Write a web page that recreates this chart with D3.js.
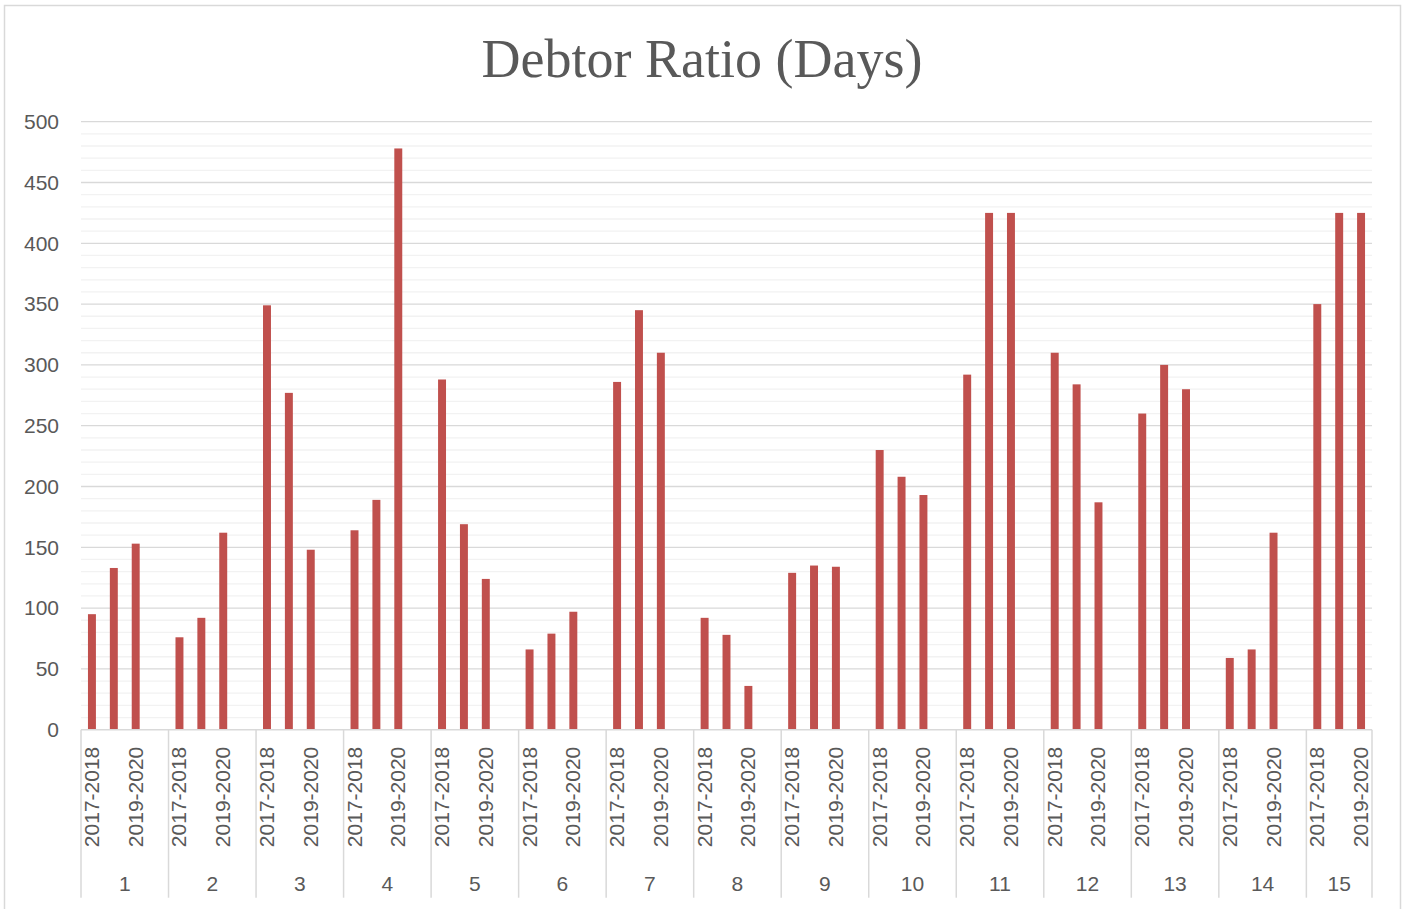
<!DOCTYPE html>
<html>
<head>
<meta charset="utf-8">
<script src="https://cdn.jsdelivr.net/npm/d3@7"></script>
<style>
  body { margin: 0; background: #fff; }
  text { font-family: "Liberation Sans", Arial, sans-serif; fill: #595959; }
</style>
</head>
<body>
<svg width="1405" height="909"></svg>
<script>
const groups = [1, 2, 3, 4, 5, 6, 7, 8, 9, 10, 11, 12, 13, 14, 15];
const periods = ["2017-2018", "2018-2019", "2019-2020"];
const ratio1718 = [95, 76, 349, 164, 288, 66, 286, 92, 129, 230, 292, 310, 260, 59, 350];
const ratio1819 = [133, 92, 277, 189, 169, 79, 345, 78, 135, 208, 425, 284, 300, 66, 425];
const ratio1920 = [153, 162, 148, 478, 124, 97, 310, 36, 134, 193, 425, 187, 280, 162, 425];
const yTicks = [0, 50, 100, 150, 200, 250, 300, 350, 400, 450, 500];

const svg = d3.select("svg");
const width = +svg.attr("width");
const height = +svg.attr("height");
const margin = {top: 121.7, right: 33, bottom: 179.3, left: 81};
const innerWidth = width - margin.left - margin.right;
const innerHeight = height - margin.top - margin.bottom;

// chart border
svg.append("rect")
  .attr("x", 4.5).attr("y", 5.5)
  .attr("width", 1396).attr("height", 910)
  .attr("fill", "none")
  .attr("stroke", "#d9d9d9")
  .attr("stroke-width", 1.5);

// title
svg.append("text")
  .attr("x", 702).attr("y", 77)
  .attr("text-anchor", "middle")
  .style("font-family", "'Liberation Serif', 'DejaVu Serif', serif")
  .style("font-size", "54px")
  .text("Debtor Ratio (Days)");

// build slots: 3 periods per group plus a blank spacer between groups
const series = [ratio1718, ratio1819, ratio1920];
const slots = [];
groups.forEach((grp, gi) => {
  periods.forEach((p, pi) => {
    slots.push({key: grp + "|" + p, group: grp, period: p, pi: pi, value: series[pi][gi]});
  });
  if (gi < groups.length - 1) slots.push({key: grp + "|blank", group: grp, period: "", pi: -1, value: null});
});

const g = svg.append("g").attr("transform", `translate(${margin.left},${margin.top})`);

const x = d3.scaleBand().domain(slots.map(d => d.key)).range([0, innerWidth]).paddingInner(0).paddingOuter(0);
const y = d3.scaleLinear().domain([0, 500]).range([innerHeight, 0]);

// minor gridlines
g.append("g")
  .selectAll("line")
  .data(d3.range(10, 500, 10).filter(v => v % 50 !== 0))
  .join("line")
  .attr("x1", 0).attr("x2", innerWidth)
  .attr("y1", d => y(d)).attr("y2", d => y(d))
  .attr("stroke", "#f2f2f2")
  .attr("stroke-width", 1.3);

// major gridlines
g.append("g")
  .selectAll("line")
  .data(yTicks.filter(v => v > 0))
  .join("line")
  .attr("x1", 0).attr("x2", innerWidth)
  .attr("y1", d => y(d)).attr("y2", d => y(d))
  .attr("stroke", "#d9d9d9")
  .attr("stroke-width", 1.3);

// y axis labels
const yAxisG = g.append("g")
  .call(d3.axisLeft(y).tickValues(yTicks).tickSize(0).tickPadding(22));
yAxisG.select(".domain").remove();
yAxisG.selectAll("text")
  .style("font-size", "21px")
  .attr("fill", "#595959");

// bars
const barW = x.bandwidth() / 2.75;
g.selectAll(".bar")
  .data(slots.filter(d => d.value !== null))
  .join("rect")
  .attr("class", "bar")
  .attr("x", d => x(d.key) + (x.bandwidth() - barW) / 2)
  .attr("width", barW)
  .attr("y", d => y(d.value))
  .attr("height", d => y(0) - y(d.value))
  .attr("fill", "#c0504d");

// x axis line
g.append("line")
  .attr("x1", 0).attr("x2", innerWidth)
  .attr("y1", innerHeight).attr("y2", innerHeight)
  .attr("stroke", "#d9d9d9")
  .attr("stroke-width", 1.5);

// group separators
const groupEdges = groups.map(grp => x(grp + "|" + periods[0]));
groupEdges.push(innerWidth);
g.selectAll(".sep")
  .data(groupEdges)
  .join("line")
  .attr("class", "sep")
  .attr("x1", d => d).attr("x2", d => d)
  .attr("y1", innerHeight).attr("y2", innerHeight + 168)
  .attr("stroke", "#d9d9d9")
  .attr("stroke-width", 1.5);

// period labels (every other slot)
g.selectAll(".plabel")
  .data(slots.filter(d => d.pi === 0 || d.pi === 2))
  .join("text")
  .attr("class", "plabel")
  .attr("transform", d => `translate(${x(d.key) + x.bandwidth() / 2 + 7},${innerHeight + 17}) rotate(-90)`)
  .attr("text-anchor", "end")
  .style("font-size", "21px")
  .text(d => d.period);

// group labels
g.selectAll(".glabel")
  .data(groups)
  .join("text")
  .attr("class", "glabel")
  .attr("x", (d, i) => (groupEdges[i] + groupEdges[i + 1]) / 2)
  .attr("y", innerHeight + 161)
  .attr("text-anchor", "middle")
  .style("font-size", "21px")
  .text(d => d);
</script>
</body>
</html>
